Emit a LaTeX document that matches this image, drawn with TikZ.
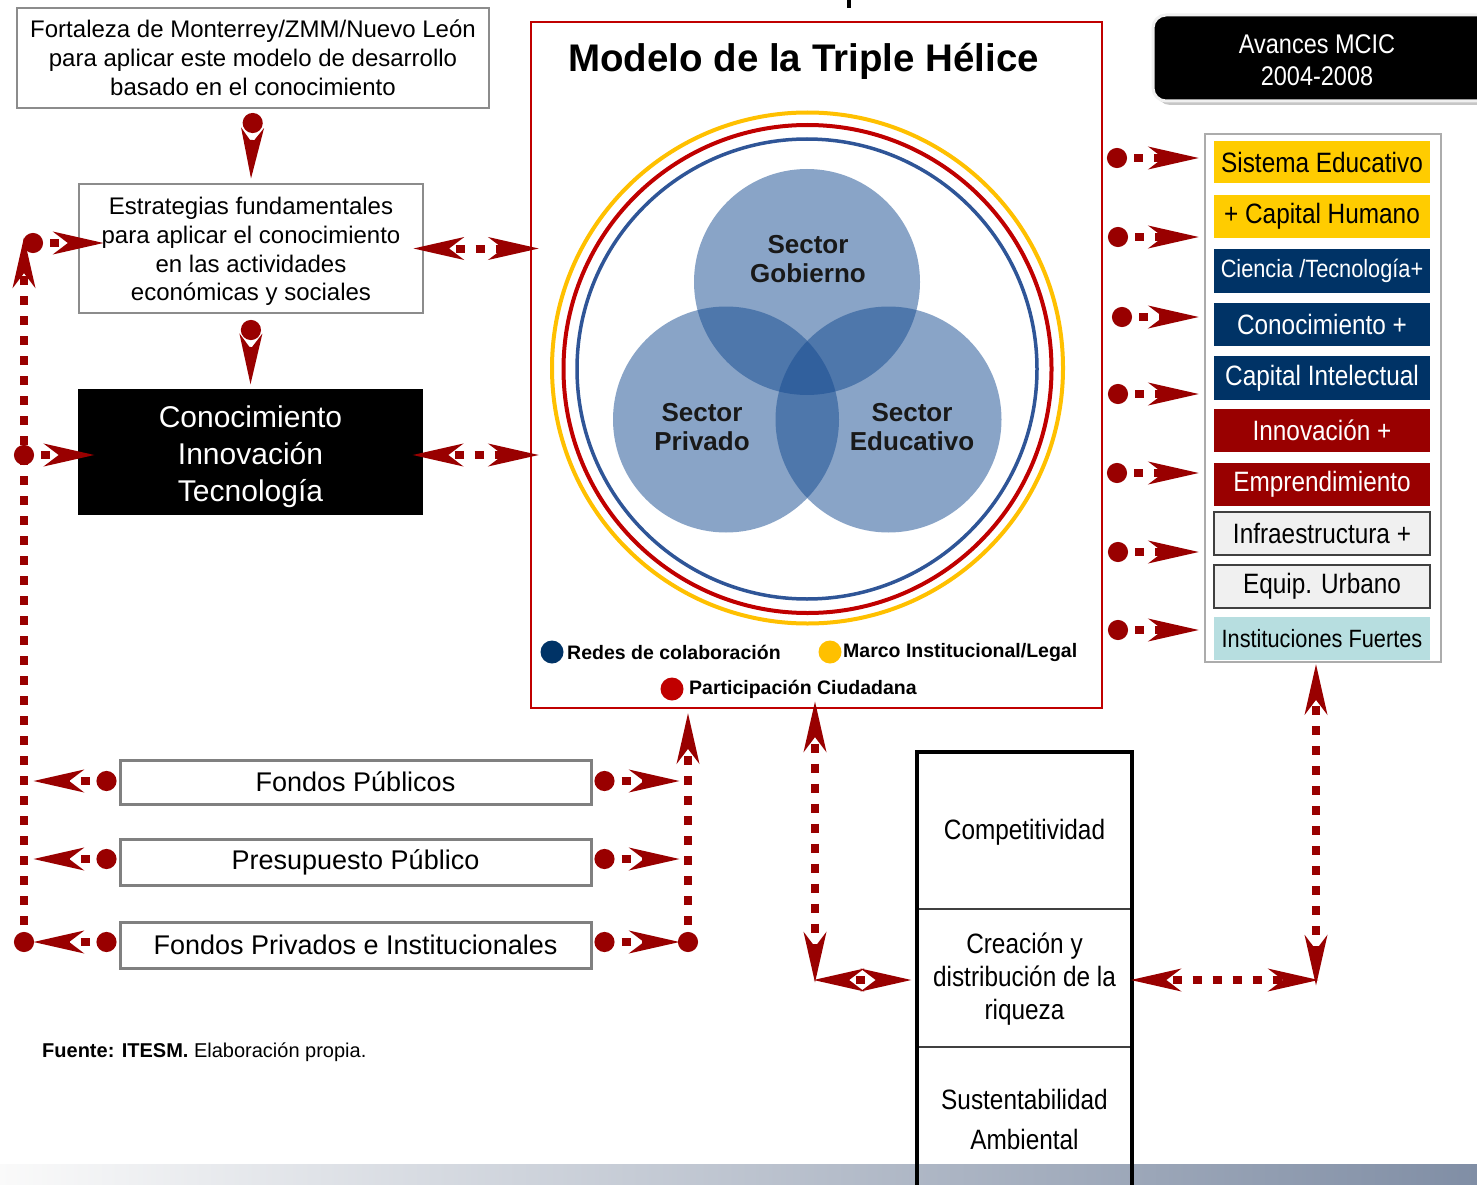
\documentclass[tikz,border=0pt]{standalone}
\usepackage{fontspec}
\setmainfont{Liberation Sans}
\newfontfamily\narrow[FakeStretch=0.87]{Liberation Sans}
\usetikzlibrary{arrows.meta,calc}
\definecolor{dred}{HTML}{990000}
\definecolor{ringy}{HTML}{FFC000}
\definecolor{ringr}{HTML}{C00000}
\definecolor{ringb}{HTML}{2F5597}
\definecolor{vennc}{RGB}{21,75,145}
\definecolor{navyc}{HTML}{003366}
\definecolor{goldc}{HTML}{FFCC00}
\definecolor{ltealc}{HTML}{B7DEE0}
\definecolor{gborder}{RGB}{140,140,140}
\definecolor{fborder}{RGB}{128,128,128}
\definecolor{lgrayc}{RGB}{240,240,240}
\newcommand\fsz[2]{\fontsize{#1}{#2}\selectfont}
\tikzset{
  myDot/.tip={Circle[length=20pt]},
  mySt/.tip={Stealth[length=50pt,width=22pt,inset=14pt]},
  conn/.style={draw=dred, line width=8pt, dash pattern=on 9pt off 11pt, dash phase=9pt},
  gbox/.style={draw=gborder, line width=2pt, inner sep=0pt, align=center, font=\fsz{24}{28.8}},
  fbox/.style={draw=fborder, line width=3pt, inner sep=0pt, minimum width=471pt, font=\fsz{27}{30}},
  item/.style={inner sep=0pt, minimum width=216pt, font=\narrow\fsz{28}{32}},
  vc/.style={circle, fill=vennc, fill opacity=0.5, minimum size=226pt, inner sep=0pt},
  vlab/.style={font=\bfseries\fsz{26}{29}, align=center, text=black!90},
  leg/.style={font=\bfseries\fsz{19.5}{22}, anchor=west, inner sep=0pt},
  trow/.style={inner sep=0pt, minimum width=215pt, align=center, font=\narrow\fsz{28}{33}}
}
\begin{document}
\begin{tikzpicture}[x=1pt,y=-1pt]
\useasboundingbox (0,0) rectangle (1477,1185);
\fill[white] (0,0) rectangle (1477,1185);
% bottom band
\shade[left color=white!96!gray, right color={rgb,255:red,128;green,142;blue,165}] (0,1164) rectangle (1477,1185);
% small mark at top
\fill[black] (847,0) rectangle (851,8);

% left column
\node[gbox, minimum width=472pt, minimum height=100pt] (fort) at (253,58)
  {Fortaleza de Monterrey/ZMM/Nuevo León\\para aplicar este modelo de desarrollo\\basado en el conocimiento};
\node[gbox, minimum width=344pt, minimum height=129pt] (estr) at (251,248.5) {};
\node[align=center, inner sep=0pt, font=\fsz{24}{28.8}] (estrl) at (251,251.5)
  {Estrategias fundamentales\\para aplicar el conocimiento\\en las actividades\\económicas y sociales};
\node[fill=black, inner sep=0pt, minimum width=345pt, minimum height=126pt] (cit) at (250.5,452) {};
\node[text=white, inner sep=0pt, align=center, font=\fsz{30}{37}] (citl) at (250.5,457)
  {Conocimiento\\Innovación\\Tecnología};

% central model
\node[draw=ringr, line width=1.5pt, minimum width=571pt, minimum height=686pt, inner sep=0pt] (model) at (816.5,365) {};
\node[font=\bfseries\fsz{38.5}{44}, anchor=base, inner sep=0pt] (title) at (803.5,72) {Modelo de la Triple Hélice};
\draw[ringy, line width=4pt] (807.5,368) circle[radius=255.5];
\draw[ringr, line width=4pt] (807.5,369) circle[radius=244];
\draw[ringb, line width=3.5pt] (807,369) circle[radius=230];
\node[vc] (gob) at (807,282) {};
\node[vc] (pri) at (726,419.5) {};
\node[vc] (edu) at (888.5,419.5) {};
\node[vlab] (gobl) at (808,259.5) {Sector\\Gobierno};
\node[vlab] (pril) at (702,427) {Sector\\Privado};
\node[vlab] (edul) at (912,427) {Sector\\Educativo};
% legend
\fill[navyc] (552,652) circle[radius=11.5];
\node[leg] (l1) at (567,652) {Redes de colaboración};
\fill[ringy] (830,652) circle[radius=11.5];
\node[leg] (l2) at (843,652) {Marco Institucional/Legal};
\fill[ringr] (672,689) circle[radius=11.5];
\node[leg] (l3) at (689,689) {Participación Ciudadana};

% Avances box
\fill[gray!45, rounded corners=13pt] (1157,21) rectangle (1500,105);
\node[fill=black, draw=white!88!gray, line width=3pt, rounded corners=13pt, minimum width=340pt, minimum height=86pt, inner sep=0pt] (av) at (1323,58) {};
\node[text=white, font=\narrow\fsz{27}{32}, align=center, inner sep=0pt] (avt) at (1317,60) {Avances MCIC\\2004-2008};

% right list
\node[draw=gray!65, line width=1.5pt, minimum width=236pt, minimum height=528pt, inner sep=0pt] (list) at (1323,398) {};
\node[item, fill=goldc, minimum height=42pt] (i1) at (1322,162) {Sistema Educativo};
\node[item, fill=goldc, minimum height=43pt] (i2) at (1322,216.5) {+ Capital Humano};
\node[item, fill=navyc, text=white, minimum height=44pt, font=\narrow\fsz{25}{30}] (i3) at (1322,271) {Ciencia /Tecnología+};
\node[item, fill=navyc, text=white, minimum height=43pt] (i4) at (1322,324.5) {Conocimiento +};
\node[item, fill=navyc, text=white, minimum height=44pt] (i5) at (1322,378) {Capital Intelectual};
\node[item, fill=dred, text=white, minimum height=43pt] (i6) at (1322,430.5) {Innovación +};
\node[item, fill=dred, text=white, minimum height=43pt] (i7) at (1322,484.5) {Emprendimiento};
\node[item, fill=lgrayc, draw=black!75, line width=2pt, minimum height=43pt] (i8) at (1322,533.5) {Infraestructura +};
\node[item, fill=lgrayc, draw=black!75, line width=2pt, minimum height=43pt] (i9) at (1322,586.5) {Equip. Urbano};
\node[item, fill=ltealc, minimum height=43pt, font=\narrow\fsz{25}{30}] (i10) at (1322,638.5) {Instituciones Fuertes};

% fondos
\node[fbox, minimum height=44pt] (fp) at (355.5,782) {Fondos Públicos};
\node[fbox, minimum height=46pt] (pp) at (355.5,862) {Presupuesto Público};
\node[fbox, minimum height=46pt] (fpi) at (355.5,945) {Fondos Privados e Institucionales};

% table
\node[trow, minimum height=157pt] (t1) at (1024.5,832.5) {Competitividad};
\node[trow, minimum height=138pt] (t2) at (1024.5,979) {Creación y\\distribución de la\\riqueza};
\node[trow, minimum height=142pt, font=\narrow\fsz{28}{40}] (t3) at (1024.5,1119) {Sustentabilidad\\Ambiental};
\draw[black!75, line width=2pt] (917,909) -- (1132,909);
\draw[black!75, line width=2pt] (917,1047) -- (1132,1047);
\draw[black, line width=4pt] (917,752) rectangle (1132,1192);

% footer
\node[anchor=west, inner sep=0pt, font=\fsz{20}{24}] (src) at (42,1052) {\textbf{Fuente: ITESM.} Elaboración propia.};

% connectors
\draw[conn, myDot-mySt] ([yshift=-4pt]fort.south) -- ([yshift=4pt]estr.north);
\draw[conn, myDot-mySt] ([yshift=-6pt]estr.south) -- ([yshift=4pt]cit.north);
\draw[conn, mySt-mySt] ([xshift=-11pt]estr.east) -- ($(estr.east -| model.west)+(9,0)$);
\coordinate (cA) at ($(cit.east)+(-11,3)$);
\draw[conn, mySt-mySt] (cA) -- ($(cA -| model.west)+(9,0)$);

% left vertical
\coordinate (L1) at (24,952);
\coordinate (L2) at (24,237);
\draw[conn, myDot-mySt] (L1) -- (L2);
\coordinate (L3) at (23,243);
\draw[conn, myDot-mySt] (L3) -- ($(estr.west |- L3)+(26,0)$);
\coordinate (L4) at (14,455);
\draw[conn, myDot-mySt] (L4) -- ($(cit.west |- L4)+(17,0)$);

% right vertical of fondos
\coordinate (R1) at (688,952);
\draw[conn, myDot-mySt] (R1) -- ($(model.south -| R1)+(0,4)$);

% fondos arrows
\foreach \b/\dy in {fp/-1, pp/-3, fpi/-3}{
  \draw[conn, myDot-mySt] ($(\b.west)+(-2,\dy)$) -- ($(\b.west -| L1)+(9,\dy)$);
  \draw[conn, myDot-mySt] ($(\b.east)+(2,\dy)$) -- ($(\b.east -| R1)+(-8,\dy)$);
}

% center to table
\coordinate (C1) at (815,701);
\coordinate (C2) at (815,983);
\draw[conn, mySt-mySt] (C1) -- (C2);
\coordinate (C3) at (813,980);
\draw[conn, mySt-mySt] (C3) -- ($(t2.west |- C3)+(-5,0)$);

% right list to table
\coordinate (D1) at ($(list.south -| 1316,0)+(0,1)$);
\coordinate (D2) at (1316,986);
\draw[conn, mySt-mySt] (D1) -- (D2);
\coordinate (D3) at (1319,980);
\draw[conn, mySt-mySt] ($(t2.east |- D3)+(-2,0)$) -- (D3);

% arrows into list
\foreach \yy/\xs in {158/1107, 237/1108, 317/1112, 394/1108, 473/1107, 552/1108, 630/1108}{
  \coordinate (r\yy) at (\xs,\yy);
  \draw[conn, myDot-mySt] (r\yy) -- ($(list.west |- r\yy)+(-5,0)$);
}
\end{tikzpicture}
\end{document}
